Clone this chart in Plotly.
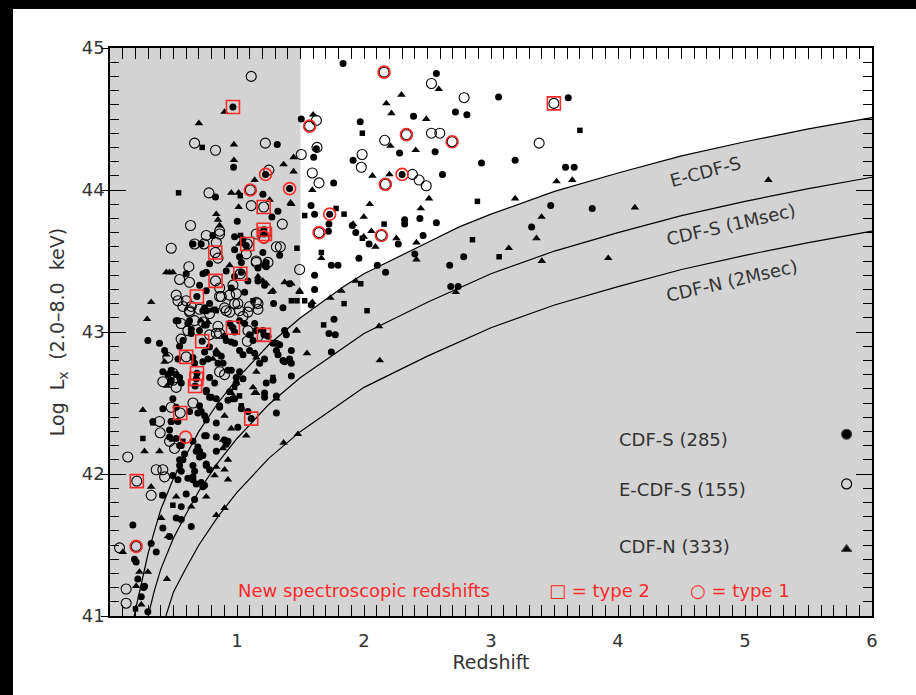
import plotly.graph_objects as go

# ---------------- flux-limit curves ----------------
ecdfs_z = [0.19, 0.25, 0.30, 0.35, 0.40, 0.50, 0.60, 0.70, 0.85, 1.00, 1.25, 1.50, 1.84, 2.00, 2.50, 2.75, 3.00, 3.50, 4.00, 4.50, 5.00, 5.50, 6.00]
ecdfs_L = [41.00, 41.25, 41.44, 41.60, 41.75, 41.97, 42.14, 42.30, 42.50, 42.67, 42.91, 43.10, 43.32, 43.41, 43.63, 43.74, 43.83, 43.99, 44.12, 44.24, 44.34, 44.43, 44.51]
cdfs_z = [0.30, 0.35, 0.40, 0.50, 0.60, 0.70, 0.85, 1.00, 1.25, 1.50, 2.00, 2.50, 3.00, 3.50, 4.00, 4.50, 5.00, 5.50, 6.00]
cdfs_L = [41.00, 41.18, 41.33, 41.55, 41.72, 41.88, 42.08, 42.25, 42.49, 42.68, 42.99, 43.21, 43.41, 43.57, 43.70, 43.82, 43.92, 44.01, 44.09]
cdfn_z = [0.44, 0.50, 0.60, 0.70, 0.85, 1.00, 1.25, 1.50, 2.00, 2.50, 3.00, 3.50, 4.00, 4.50, 5.00, 5.50, 6.00]
cdfn_L = [41.00, 41.17, 41.34, 41.50, 41.70, 41.87, 42.11, 42.30, 42.61, 42.83, 43.03, 43.19, 43.32, 43.44, 43.54, 43.63, 43.71]
Z_CUT = 1.5   # grey band: all sources below this redshift are shaded

# ---------------- CDF-S sources (filled circles) ----------------
cdfs_pts = [
    (1.835,44.89),(2.57,44.82),(3.06,44.655),(3.608,44.65),(2.72,44.55),(2.81,44.53),(2.39,44.52),(1.97,44.48),
    (1.506,44.50),(1.625,44.29),(1.604,44.23),(1.914,44.21),(2.28,44.26),(2.56,44.27),(2.925,44.19),(3.19,44.21),
    (3.587,44.16),(3.655,44.16),(1.761,44.05),(2.30,44.11),(2.618,44.11),(1.583,43.89),(1.611,43.83),(1.73,43.83),
    (1.908,43.75),(2.32,43.79),(2.32,43.76),(2.44,43.80),(2.57,43.77),(1.724,43.76),(1.72,43.71),(1.935,43.70),
    (2.04,43.62),(2.27,43.62),(2.465,43.68),(3.47,43.89),(3.797,43.87),(3.32,43.74),(2.785,43.53),(2.40,43.55),
    (1.96,43.52),(1.743,43.47),(1.795,43.47),(2.105,43.47),(1.611,43.40),(2.17,43.42),(2.675,43.47),(2.683,43.32),
    (2.741,43.32),(1.611,43.30),(1.585,43.19),(1.764,43.09),(1.724,42.99),(1.774,42.98),(1.743,42.86),(1.428,42.87),
    (1.428,42.78),(1.428,42.69),(1.414,43.34),
    (1.317,44.32),(0.973,44.16),(1.225,44.11),(1.414,44.01),(0.831,43.95),(1.204,43.97),(1.322,43.85),(1.275,43.81),
    (1.002,43.78),(0.81,43.68),(1.212,43.72),(1.212,43.69),(0.968,44.585),
    (0.981,43.58),(1.02,43.53),(1.204,43.56),(1.034,43.49),(1.217,43.47),(0.915,43.43),(0.981,43.39),(0.955,43.31),
    (1.06,43.28),(1.165,43.36),(1.217,43.33),(0.535,43.08),(0.626,43.08),(0.731,43.15),(0.64,42.99),(0.758,43.05),
    (0.784,42.895),(0.837,42.85),(0.731,42.79),(0.915,42.94),(0.981,42.92),(0.85,42.78),(0.929,42.73),(0.994,42.68),
    (0.298,42.94),(0.39,42.92),(0.456,42.70),(0.482,42.66),(0.758,42.59),(0.784,42.54),(0.863,42.48),(0.929,42.52),
    (0.968,42.53),(0.994,42.64),(0.626,42.44),(0.692,42.43),(0.482,42.37),(1.23,42.64),(1.283,42.66),(1.31,42.92),
    (1.336,42.91),(1.414,42.81),(1.375,42.79),(1.31,42.55),(1.217,42.57),(1.31,42.43),(1.362,43.17),(1.288,43.20),
    (0.981,43.67),(1.047,43.65),(0.784,43.48),(0.758,43.42),(0.758,43.29),(0.705,43.33),(0.784,43.20),(0.758,43.15),
    (0.684,43.25),(0.968,43.03),(1.212,42.98),(0.726,42.935),(0.685,42.71),(0.68,42.67),(0.67,42.62),(1.112,42.39),
    (0.758,42.27),(0.679,42.16),(0.705,42.12),(0.548,42.10),(0.758,42.07),(0.784,42.03),(0.837,42.16),(0.902,42.24),
    (0.915,42.21),(0.837,42.36),(1.007,42.33),(0.653,41.98),(0.679,41.93),(0.60,41.86),(0.666,41.82),(0.731,41.91),
    (0.561,41.77),(0.521,41.69),(0.561,41.68),(0.64,41.63),(0.416,41.62),(0.469,41.56),(0.324,41.51),(0.364,41.45),
    (0.18,41.64),(0.193,41.40),(0.206,41.38),(0.219,41.26),(0.272,41.21),(0.246,41.136),(0.298,41.03),(0.416,41.85),
    (0.469,42.31),(0.561,42.20),(0.482,42.37),(0.535,42.37),(0.264,41.20),
    (0.653,43.62),(0.718,43.62),(1.073,43.61),(1.23,43.49),(1.165,43.45),(1.23,43.46),(1.336,43.54),(0.60,43.41),
    (0.732,43.41),(1.034,43.42),(1.086,43.36),(0.745,43.17),(0.521,43.08),(0.613,43.06),(0.64,43.02),(0.705,43.01),
    (0.745,43.05),(0.942,43.06),(0.981,43.00),(1.02,43.08),(1.06,43.06),(0.902,42.97),(0.955,42.93),(1.099,42.98),
    (1.126,42.94),(1.204,43.01),(1.244,42.97),(1.283,42.92),(1.31,42.87),(1.099,42.87),(1.139,42.85),(1.02,42.87),
    (1.047,42.84),(0.876,42.83),(0.89,42.78),(0.745,42.86),(0.771,42.81),(0.653,42.82),(0.666,42.78),(0.548,42.90),
    (0.574,42.94),(0.43,42.87),(0.535,42.81),(1.139,43.06),(1.152,43.01),(1.375,43.01),(1.388,42.98),(1.323,42.84),
    (1.362,42.80),(1.178,42.78),(1.217,42.81),
    (0.416,42.72),(0.482,42.73),(0.521,42.70),(0.548,42.68),(0.561,42.64),(0.784,42.68),(0.824,42.64),(0.955,42.73),
    (1.02,42.72),(1.047,42.67),(0.758,42.58),(0.797,42.54),(0.837,42.53),(0.863,42.47),(0.942,42.58),(0.981,42.53),
    (1.217,42.54),(1.034,42.46),(1.086,42.44),(0.745,42.41),(0.758,42.38),(0.705,42.48),(0.718,42.44),(0.495,42.53),
    (0.521,42.47),(0.416,42.46),(0.337,42.37),(0.469,42.26),(0.521,42.25),(0.548,42.20),(0.653,42.23),(0.692,42.19),
    (0.705,42.16),(0.732,42.13),(0.587,42.14),(0.574,42.10),(0.745,42.27),(0.837,42.26),(0.929,42.23),(0.758,42.06),
    (0.653,42.06),(0.666,42.02),(0.548,42.06),(0.561,42.02),(0.613,41.97),(0.653,41.96),(0.718,41.94),(0.745,41.92),
    (0.495,41.99),(0.535,41.96),
]

# ---------------- E-CDF-S sources (open circles) ----------------
ecdfs_pts = [
    (2.531,44.75),(2.788,44.65),(1.625,44.49),(1.63,44.30),(1.506,44.25),(2.163,44.35),(2.531,44.40),(2.597,44.40),
    (1.985,44.25),(1.979,44.16),(1.593,44.12),(1.646,44.05),(2.381,44.11),(2.434,44.07),(2.49,44.03),(3.379,44.33),
    (2.158,44.83),(1.572,44.45),(2.334,44.39),(2.694,44.34),(2.168,44.04),(1.646,43.70),(2.137,43.68),(3.495,44.61),
    (1.493,43.44),
    (1.112,44.80),(0.666,44.33),(0.831,44.28),(1.223,44.33),(1.251,44.14),(1.105,44.00),(0.779,43.98),(1.112,43.89),
    (1.21,43.88),(1.357,43.76),(0.634,43.75),(0.863,43.71),
    (1.081,43.62),(0.829,43.56),(1.026,43.41),(0.831,43.36),(1.081,42.935),(0.60,42.825),(0.553,42.43),(1.212,43.66),
    (0.482,43.59),(0.666,43.62),(0.74,43.62),(0.863,43.69),(0.837,43.63),(1.073,43.55),(1.152,43.49),(1.244,43.49),
    (1.341,43.60),(0.621,43.46),(0.548,43.37),(0.626,43.35),(0.521,43.26),(0.535,43.22),(0.60,43.22),(0.705,43.16),
    (0.626,43.15),(0.863,43.25),(0.915,43.15),(0.981,43.20),(1.152,43.21),(1.165,43.16),(0.56,43.06),(0.613,43.01),
    (0.56,42.95),(0.85,43.04),(0.863,42.99),(0.784,42.98),(1.086,43.01),(1.165,42.97),(0.456,42.82),(0.495,42.71),
    (0.416,42.65),(0.521,42.61),(0.482,42.47),(0.39,42.37),(0.653,42.50),(0.758,43.68),(1.152,43.69),
    (0.395,42.29),(0.469,42.23),(0.14,42.12),(0.508,42.18),(0.364,42.03),(0.416,42.03),(0.43,41.98),(0.324,41.85),
    (0.075,41.48),(0.127,41.19),(0.127,41.09),(0.211,41.95),(0.206,41.49),
    (0.85,43.52),(1.152,43.50),(1.31,43.60),(0.64,43.18),(0.626,43.14),(0.574,43.18),(0.666,43.08),(0.732,43.07),
    (0.784,43.13),(0.902,43.17),(0.942,43.14),(1.007,43.20),(1.02,43.15),(1.099,43.18),(1.165,43.20),(1.047,43.11),
    (1.086,43.14),(0.863,43.31),(0.876,43.25),(0.942,43.26),(0.968,43.33),(0.994,43.27),(0.837,42.99),
    (0.495,42.66),(0.863,42.72),(0.902,42.70),
]

# ---------------- CDF-N sources (filled triangles) ----------------
cdfn_pts = [
    (2.295,44.67),(2.176,44.61),(2.589,44.71),(2.216,44.54),(2.49,44.50),(1.60,44.53),(2.407,44.28),(2.208,44.31),
    (1.446,44.23),(1.446,44.13),(1.593,44.00),(2.066,44.10),(2.20,44.11),(1.428,43.90),(2.512,43.94),(2.045,43.90),
    (1.998,43.81),(2.447,43.87),(1.914,43.76),(2.058,43.71),(2.255,43.66),(2.413,43.63),(2.09,43.60),(3.19,43.94),
    (3.516,44.06),(3.64,44.07),(3.398,43.81),(3.358,43.66),(3.14,43.59),(1.664,43.52),
    (1.998,43.67),(2.413,43.51),(1.935,43.36),(1.822,43.29),(1.735,43.24),(1.493,43.28),(1.593,43.21),(3.40,43.50),
    (3.923,43.52),(2.723,43.28),(2.118,43.04),(1.472,43.01),(1.551,42.85),(2.124,42.80),(1.48,42.28),
    (5.184,44.07),(4.133,43.876),
    (0.902,44.55),(0.70,44.47),(0.976,44.32),(0.976,44.21),(1.367,44.18),(1.139,44.07),(0.955,43.98),(1.013,43.98),
    (1.257,43.93),(1.013,43.88),(1.422,43.91),(0.837,43.83),(0.85,43.79),(0.863,43.75),
    (0.443,43.42),(0.469,43.42),(0.495,43.42),(0.324,43.21),(0.293,43.09),(0.797,43.15),(0.837,42.87),(0.863,42.84),
    (0.43,42.79),(0.482,42.71),(0.469,42.64),(0.81,42.81),(1.27,43.28),(1.375,43.35),(1.428,43.34),(1.493,43.29),
    (1.467,43.01),(1.126,42.61),(1.152,42.57),(0.259,42.45),(0.955,42.57),(1.152,42.82),
    (0.272,42.16),(0.39,42.16),(0.548,42.03),(0.324,41.91),(0.521,41.84),(0.902,42.03),(0.837,42.05),(0.758,41.84),
    (0.64,41.77),(0.403,41.69),(0.456,41.56),(0.448,41.26),(0.232,41.31),(0.837,41.71),(0.902,41.76),(1.367,42.22),
    (0.246,41.08),(0.206,41.21),(0.298,41.31),(0.101,41.45),
    (1.02,43.62),(0.942,43.47),(1.204,43.36),(1.23,43.34),(1.283,43.29),(1.165,43.39),(0.718,43.08),(0.771,43.07),
    (0.443,42.84),(0.45,42.62),(0.994,42.64),(1.152,42.72),(1.139,42.57),(1.31,42.53),(0.902,42.41),(0.495,42.24),
    (0.889,42.24),(0.955,42.32),(1.073,42.27),(0.889,42.18),(0.929,42.10),(0.824,41.99),(0.929,41.96),
]

# ---------------- other sources (small filled squares) ----------------
other_pts = [
    (1.987,44.40),(1.533,43.82),(1.843,43.83),(2.158,43.76),(1.987,43.66),(1.472,43.59),(1.664,43.56),(2.893,43.92),
    (2.854,43.65),(3.70,44.42),(3.064,43.53),(1.472,43.22),(1.533,43.22),(1.843,43.20),(1.974,43.34),(2.024,43.15),
    (1.682,43.05),(1.78,43.87),(0.726,44.30),(0.54,43.98),(1.026,43.96),(1.028,43.68),(0.824,43.16),(1.126,43.22),
    (1.428,43.22),(1.178,42.78),(1.283,42.68),(0.981,42.61),(0.338,42.36),(1.034,42.48),(0.955,43.04),(0.259,42.25),
    (0.411,41.85),(0.495,41.78),(0.201,41.05),(0.574,42.23),(0.692,42.18),(0.837,43.15),(1.02,42.55),
]

# ---------------- new spectroscopic redshifts ----------------
type2_pts = [
    (0.968,44.585),(1.21,43.88),(1.21,43.72),(1.22,43.69),(1.081,43.62),(0.829,43.56),(1.026,43.41),(0.831,43.36),
    (0.684,43.25),(0.968,43.03),(1.212,42.98),(0.726,42.935),(0.60,42.825),(0.685,42.71),(0.68,42.67),(0.67,42.62),
    (0.553,42.43),(1.112,42.39),(0.211,41.95),(3.495,44.61),
]
type1_pts = [
    (2.158,44.83),(1.572,44.45),(2.334,44.39),(2.694,44.34),(2.30,44.11),(2.168,44.04),(1.73,43.83),(1.646,43.70),
    (2.137,43.68),(1.414,44.01),(1.225,44.11),(1.105,44.00),(1.21,43.67),(0.595,42.26),(0.206,41.49),
]

# legend key (drawn inside the plot, lower right)
legend_labels = ["CDF-S (285)", "E-CDF-S (155)", "CDF-N (333)"]
legend_text_z = 3.99
legend_key_z = 5.80
legend_L = [42.24, 41.89, 41.49]
legend_key_L = [42.28, 41.93, 41.47]

curve_labels = ["E-CDF-S", "CDF-S (1Msec)", "CDF-N (2Msec)"]
curve_label_z = [4.69, 4.89, 4.90]
curve_label_L = [44.13, 43.76, 43.36]
curve_label_angle = [-15, -13, -13]

RED = "#ff2a2a"
TXT = "#333333"
FONT = "DejaVu Sans"
NB = "\u00a0"


def xs(p):
    return [a for a, _ in p]


def ys(p):
    return [b for _, b in p]


fig = go.Figure()

# grey shaded region: z < Z_CUT, plus everything below the E-CDF-S limit
gz = [0, 0, Z_CUT] + [z for z in ecdfs_z if z >= Z_CUT] + [6]
gL = [41, 45, 45] + [L for z, L in zip(ecdfs_z, ecdfs_L) if z >= Z_CUT] + [41]
fig.add_trace(go.Scatter(x=gz, y=gL, fill="toself", fillcolor="#d3d3d3",
                         mode="none", hoverinfo="skip", showlegend=False))

for cz, cL in [(ecdfs_z, ecdfs_L), (cdfs_z, cdfs_L), (cdfn_z, cdfn_L)]:
    fig.add_trace(go.Scatter(x=cz, y=cL, mode="lines", line=dict(color="black", width=1.2),
                             showlegend=False, hoverinfo="skip"))

fig.add_trace(go.Scatter(x=xs(other_pts), y=ys(other_pts), mode="markers", showlegend=False,
                         marker=dict(symbol="square", size=5.5, color="black")))
fig.add_trace(go.Scatter(x=xs(cdfn_pts), y=ys(cdfn_pts), mode="markers", showlegend=False,
                         marker=dict(symbol="triangle-up", size=7.5, color="black")))
fig.add_trace(go.Scatter(x=xs(cdfs_pts), y=ys(cdfs_pts), mode="markers", showlegend=False,
                         marker=dict(symbol="circle", size=7, color="black")))
fig.add_trace(go.Scatter(x=xs(ecdfs_pts), y=ys(ecdfs_pts), mode="markers", showlegend=False,
                         marker=dict(symbol="circle-open", size=10, color="black", line=dict(width=1.1))))
fig.add_trace(go.Scatter(x=xs(type2_pts), y=ys(type2_pts), mode="markers", showlegend=False,
                         marker=dict(symbol="square-open", size=13, color=RED, line=dict(width=1.6))))
fig.add_trace(go.Scatter(x=xs(type1_pts), y=ys(type1_pts), mode="markers", showlegend=False,
                         marker=dict(symbol="circle-open", size=12, color=RED, line=dict(width=1.6))))

# legend key markers
for sym, L in zip(["circle", "circle-open", "triangle-up"], legend_key_L):
    fig.add_trace(go.Scatter(x=[legend_key_z], y=[L], mode="markers", showlegend=False,
                             marker=dict(symbol=sym, size=10 if sym != "triangle-up" else 9,
                                         color="black", line=dict(width=1.2))))

# trace on the overlay axis so its outer tick stubs are drawn
fig.add_trace(go.Scatter(x=[legend_key_z], y=[legend_key_L[0]], yaxis="y2", mode="markers",
                         marker=dict(opacity=0), showlegend=False, hoverinfo="skip"))

ann = []
for t, L in zip(legend_labels, legend_L):
    ann.append(dict(x=legend_text_z, y=L, text=t, xanchor="left", yanchor="middle", showarrow=False,
                    font=dict(family=FONT, size=18, color=TXT)))
for t, z, L, a in zip(curve_labels, curve_label_z, curve_label_L, curve_label_angle):
    ann.append(dict(x=z, y=L, text=t, textangle=a, showarrow=False, xanchor="center", yanchor="middle",
                    font=dict(family=FONT, size=18, color=TXT)))
ann.append(dict(x=0.995, y=41.18, text="New" + NB + "spectroscopic" + NB + "redshifts", xanchor="left",
                yanchor="middle", showarrow=False, font=dict(family=FONT, size=18, color=RED)))
ann.append(dict(x=3.44, y=41.18, text="\u25a1" + NB + "=" + NB + "type" + NB + "2", xanchor="left", yanchor="middle",
                showarrow=False, font=dict(family=FONT, size=18, color=RED)))
ann.append(dict(x=4.55, y=41.18, text="\u25cb" + NB + "=" + NB + "type" + NB + "1", xanchor="left", yanchor="middle",
                showarrow=False, font=dict(family=FONT, size=18, color=RED)))

# black frame strips along the top and left edges of the page
border = [
    dict(type="rect", xref="paper", yref="paper", x0=-0.3, x1=1.3, y0=1.0687, y1=1.3,
         fillcolor="black", line=dict(width=0), layer="below"),
    dict(type="rect", xref="paper", yref="paper", x0=-0.3, x1=-0.1273, y0=-0.3, y1=1.3,
         fillcolor="black", line=dict(width=0), layer="below"),
]

fig.update_layout(
    width=916, height=695,
    margin=dict(l=110, r=44, t=48, b=79),
    paper_bgcolor="white", plot_bgcolor="white",
    font=dict(family=FONT, color=TXT),
    annotations=ann,
    shapes=border,
    xaxis=dict(range=[0, 6], tickvals=[1, 2, 3, 4, 5, 6], ticks="inside", ticklen=11, tickwidth=1.2,
               tickcolor="black", showline=True, linecolor="black", linewidth=1.5, mirror="allticks",
               showgrid=False, zeroline=False, tickfont=dict(size=18, color=TXT), ticklabelstandoff=8,
               minor=dict(dtick=0.1, ticks="inside", ticklen=6, tickcolor="black", tickwidth=1, showgrid=False),
               title=dict(text="Redshift", font=dict(size=19, color=TXT), standoff=4)),
    yaxis=dict(range=[41, 45], tickvals=[41, 42, 43, 44, 45], ticks="inside", ticklen=16, tickwidth=1.2,
               tickcolor="black", showline=True, linecolor="black", linewidth=1.5, mirror="allticks",
               showgrid=False, zeroline=False, tickfont=dict(size=18, color=TXT), ticklabelstandoff=0,
               minor=dict(dtick=0.1, ticks="inside", ticklen=9, tickcolor="black", tickwidth=1, showgrid=False),
               title=dict(text="Log" + NB + NB + "L<sub>x</sub>" + NB + NB + "(2.0\u20138.0" + NB + NB + "keV)",
                          font=dict(size=19, color=TXT), standoff=12)),
    yaxis2=dict(range=[41, 45], overlaying="y", side="left", tickvals=[41, 42, 43, 44, 45], ticks="outside",
                ticklen=8, tickwidth=1.2, tickcolor="black", showticklabels=False, showgrid=False,
                zeroline=False, showline=False),
)

page_js = ("document.documentElement.style.margin='0px';document.documentElement.style.padding='0px';"
           "document.documentElement.style.overflow='hidden';document.documentElement.style.background='white';"
           "document.body.style.margin='0px';document.body.style.padding='0px';"
           "document.body.style.overflow='hidden';document.body.style.background='white';")
fig.write_html("out.html", config={"displayModeBar": False}, post_script=page_js)
